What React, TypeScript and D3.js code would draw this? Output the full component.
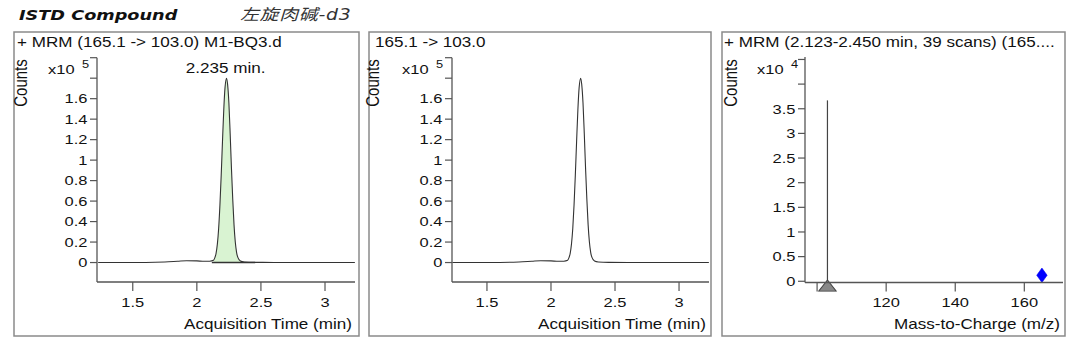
import React from 'react';
import * as d3 from 'd3';

// ---------- data ----------
const headerLeft = 'ISTD Compound';
const headerRight = '左旋肉碱-d3';

const panelTitles = ['+ MRM (165.1 -> 103.0) M1-BQ3.d', '165.1 -> 103.0', '+ MRM (2.123-2.450 min, 39 scans) (165....'];

// chromatogram: acquisition time (min) vs counts (x10^5)
const ticTimes = [1.23, 1.4, 1.6, 1.75, 1.85, 1.92, 2.0, 2.06, 2.1, 2.13, 2.14, 2.15, 2.16, 2.17, 2.18, 2.19, 2.2, 2.21, 2.22, 2.232, 2.24, 2.25, 2.26, 2.27, 2.28, 2.29, 2.3, 2.31, 2.32, 2.34, 2.37, 2.45, 2.6, 3.0, 3.233];
const ticCounts = [0, 0, 0.001, 0.006, 0.013, 0.018, 0.016, 0.012, 0.013, 0.022, 0.045, 0.09, 0.18, 0.33, 0.56, 0.85, 1.18, 1.49, 1.71, 1.8, 1.74, 1.56, 1.26, 0.92, 0.62, 0.37, 0.2, 0.1, 0.05, 0.015, 0.006, 0.002, 0.001, 0, 0];
const integStart = 2.117;
const integEnd = 2.455;
const peakLabel = '2.235 min.';
const peakRT = 2.232;

const timeTicks = [1.5, 2, 2.5, 3];
const countTicks = [0, 0.2, 0.4, 0.6, 0.8, 1, 1.2, 1.4, 1.6, 1.8, 2.0];
const countLabels = ['0', '0.2', '0.4', '0.6', '0.8', '1', '1.2', '1.4', '1.6', '', ''];

// spectrum: m/z vs counts (x10^4)
const specMz = [103.0];
const specCounts = [3.67];
const precursorMz = 165.1;
const mzTicks = [100, 120, 140, 160];
const mzLabels = ['', '120', '140', '160'];
const specTicks = [0, 0.5, 1, 1.5, 2, 2.5, 3, 3.5, 4, 4.5];
const specLabels = ['0', '0.5', '1', '1.5', '2', '2.5', '3', '3.5', '', ''];

// ---------- layout / style ----------
const S = 1.22; // horizontal stretch of the reference text
const FONT = '"Liberation Sans", Arial, sans-serif';
const TEXT = '#111';
const AXIS = '#555';
const BOX = '#8a8a8a';

type TxtProps = {
  x: number; y: number; anchor?: 'start' | 'middle' | 'end'; size?: number;
  weight?: string | number; italic?: boolean; family?: string; fill?: string; rotate?: number;
  children: React.ReactNode; spacing?: number;
};
function Txt({ x, y, anchor = 'start', size = 14, weight, italic, family = FONT, fill = TEXT, rotate, children, spacing }: TxtProps) {
  return (
    <text
      transform={`translate(${x},${y}) scale(${S},1)${rotate ? ` rotate(${rotate})` : ''}`}
      textAnchor={anchor}
      fontSize={size}
      fontFamily={family}
      fontWeight={weight}
      fontStyle={italic ? 'italic' : undefined}
      fill={fill}
      letterSpacing={spacing}
    >
      {children}
    </text>
  );
}

type Box = { x: number; y: number; w: number; h: number };
type Plot = { left: number; right: number; top: number; bottom: number };

type PanelProps = {
  box: Box; plot: Plot; title: string; titleX: number;
  x: d3.ScaleLinear<number, number>; y: d3.ScaleLinear<number, number>;
  xTicks: number[]; xLabels: string[]; yTicks: number[]; yLabels: string[];
  xTitle: string; exponent: string; countsX: number; x10X: number;
  children?: React.ReactNode;
};

function Panel({ box, plot, title, titleX, x, y, xTicks, xLabels, yTicks, yLabels, xTitle, exponent, countsX, x10X, children }: PanelProps) {
  return (
    <g>
      <rect x={box.x} y={box.y} width={box.w} height={box.h} fill="#fff" stroke={BOX} strokeWidth={1.5} />
      <Txt x={titleX} y={46.5} size={14}>{title}</Txt>
      <Txt x={countsX} y={83} size={15} anchor="middle" rotate={-90}>Counts</Txt>
      <Txt x={x10X} y={74} size={13.5}>x10</Txt>
      <Txt x={x10X + 34} y={67.5} size={10.5}>{exponent}</Txt>
      {children}
      {/* y axis */}
      <line x1={plot.left} x2={plot.left} y1={plot.top} y2={plot.bottom} stroke={AXIS} strokeWidth={1.3} />
      {yTicks.map((t, i) => (
        <g key={'y' + i}>
          <line x1={plot.left - 7} x2={plot.left} y1={y(t)} y2={y(t)} stroke={AXIS} strokeWidth={1.2} />
          {yLabels[i] && (
            <Txt x={plot.left - 9.5} y={y(t) + 4.8} size={13.5} anchor="end">{yLabels[i]}</Txt>
          )}
        </g>
      ))}
      {/* x axis */}
      <line x1={plot.left} x2={plot.right} y1={plot.bottom} y2={plot.bottom} stroke={AXIS} strokeWidth={1.3} />
      {xTicks.map((t, i) => (
        <g key={'x' + i}>
          <line x1={x(t)} x2={x(t)} y1={plot.bottom} y2={plot.bottom + 9} stroke={AXIS} strokeWidth={1.2} />
          {xLabels[i] && (
            <Txt x={x(t)} y={306.5} size={13.5} anchor="middle">{xLabels[i]}</Txt>
          )}
        </g>
      ))}
      <Txt x={plot.right - 3} y={328.5} size={14} anchor="end">{xTitle}</Txt>
    </g>
  );
}

export default function App() {
  const tic = ticTimes.map((t, i) => ({ t, v: ticCounts[i] }));

  // panel 1
  const box1 = { x: 14, y: 32, w: 345, h: 304 };
  const plot1 = { left: 97, right: 355, top: 57.7, bottom: 282 };
  const x1 = d3.scaleLinear().domain([1.221, 3.234]).range([plot1.left, plot1.right]);
  const y1 = d3.scaleLinear().domain([-0.19, 2.0]).range([plot1.bottom, plot1.top]);

  // panel 2
  const box2 = { x: 369, y: 32, w: 342, h: 304 };
  const plot2 = { left: 452, right: 709, top: 57.7, bottom: 282 };
  const x2 = d3.scaleLinear().domain([1.227, 3.234]).range([plot2.left, plot2.right]);
  const y2 = d3.scaleLinear().domain([-0.19, 2.0]).range([plot2.bottom, plot2.top]);

  // panel 3
  const box3 = { x: 722, y: 32, w: 343, h: 304 };
  const plot3 = { left: 805, right: 1063, top: 57, bottom: 282.5 };
  const x3 = d3.scaleLinear().domain([96.5, 171.2]).range([plot3.left, plot3.right]);
  const y3 = d3.scaleLinear().domain([-0.025, 4.55]).range([plot3.bottom, plot3.top]);

  const line1 = d3.line<{ t: number; v: number }>().x(d => x1(d.t)).y(d => y1(d.v)).curve(d3.curveMonotoneX);
  const line2 = d3.line<{ t: number; v: number }>().x(d => x2(d.t)).y(d => y2(d.v)).curve(d3.curveMonotoneX);
  const area1 = d3.area<{ t: number; v: number }>().x(d => x1(d.t)).y0(() => y1(0)).y1(d => y1(d.v)).curve(d3.curveMonotoneX);
  const integ = tic.filter(d => d.t >= integStart && d.t <= integEnd);

  const tri = d3.symbol().type(d3.symbolTriangle).size(80)();
  const dia = d3.symbol().type(d3.symbolDiamond).size(60)();

  return (
    <svg width={1080} height={355} style={{ position: 'absolute', left: 0, top: 0, background: '#fff' }}>
      <rect x={0} y={0} width={1080} height={355} fill="#fff" />
      <Txt x={19} y={19.5} size={14.5} weight="bold" italic family='"DejaVu Sans", Verdana, sans-serif'>{headerLeft}</Txt>
      <Txt x={240} y={19.5} size={15.5} italic family='"DejaVu Sans", "Noto Sans CJK SC", sans-serif' fill="#333" spacing={0.6}>{headerRight}</Txt>

      <Panel box={box1} plot={plot1} title={panelTitles[0]} titleX={17} x={x1} y={y1}
        xTicks={timeTicks} xLabels={timeTicks.map(String)} yTicks={countTicks} yLabels={countLabels}
        xTitle="Acquisition Time (min)" exponent="5" countsX={27} x10X={48}>
        <path d={area1(integ) || ''} fill="#d9f3d2" stroke="none" />
        <path d={line1(tic) || ''} fill="none" stroke="#333" strokeWidth={1.1} />
        <line x1={x1(integStart)} x2={x1(integEnd)} y1={y1(0)} y2={y1(0)} stroke="#333" strokeWidth={1.4} />
        <Txt x={x1(peakRT) - 1} y={73} size={14} anchor="middle">{peakLabel}</Txt>
      </Panel>

      <Panel box={box2} plot={plot2} title={panelTitles[1]} titleX={375} x={x2} y={y2}
        xTicks={timeTicks} xLabels={timeTicks.map(String)} yTicks={countTicks} yLabels={countLabels}
        xTitle="Acquisition Time (min)" exponent="5" countsX={379} x10X={402}>
        <path d={line2(tic) || ''} fill="none" stroke="#333" strokeWidth={1.1} />
      </Panel>

      <Panel box={box3} plot={plot3} title={panelTitles[2]} titleX={724} x={x3} y={y3}
        xTicks={mzTicks} xLabels={mzLabels} yTicks={specTicks} yLabels={specLabels}
        xTitle="Mass-to-Charge (m/z)" exponent="4" countsX={737} x10X={757}>
        {specMz.map((m, i) => (
          <line key={'s' + i} x1={x3(m)} x2={x3(m)} y1={y3(0)} y2={y3(specCounts[i])} stroke="#444" strokeWidth={1.2} />
        ))}
        {specMz.map((m, i) => (
          <path key={'t' + i} d={tri || ''} transform={`translate(${x3(m)},${plot3.bottom + 5}) scale(1.3,0.95)`} fill="#888" stroke="#444" strokeWidth={0.8} />
        ))}
        <path d={dia || ''} transform={`translate(${x3(precursorMz)},${y3(0) - 6}) scale(1.25,1)`} fill="#0000ff" stroke="#0000ee" strokeWidth={0.5} />
      </Panel>
    </svg>
  );
}
